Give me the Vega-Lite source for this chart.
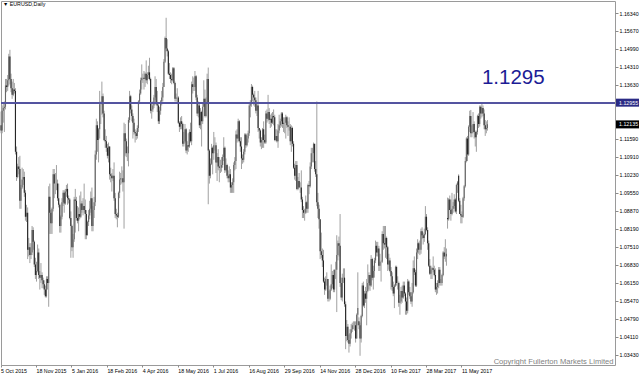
{
"$schema": "https://vega.github.io/schema/vega-lite/v6.json",
"width": 614, "height": 364,
"autosize": "none",
"padding": {"left": 1, "top": 1, "right": 25, "bottom": 10},
"background": "white",
"title": {"text": "▼ EURUSD,Daily", "anchor": "start", "frame": "group", "font": "Liberation Sans", "fontSize": 5.3, "fontWeight": "normal", "color": "#000000", "baseline": "top", "offset": 0, "dy": 6, "dx": 2},
"config": {"view": {"stroke": "#9a9a9a", "strokeWidth": 1}, "axis": {"labelFont": "Liberation Sans", "labelFontSize": 5.3, "labelColor": "#000000", "tickColor": "#8a8a8a", "domain": false, "grid": false, "labelOverlap": false, "labelFlush": false, "labelBound": false}},
"data": {"values": [
{"d":"2015-10-05","o":1.1210,"h":1.1262,"l":1.1180,"c":1.1190},
{"d":"2015-10-06","o":1.1190,"h":1.1285,"l":1.1180,"c":1.1265},
{"d":"2015-10-07","o":1.1265,"h":1.1295,"l":1.1220,"c":1.1275},
{"d":"2015-10-08","o":1.1275,"h":1.1300,"l":1.1185,"c":1.1280},
{"d":"2015-10-09","o":1.1280,"h":1.1385,"l":1.1270,"c":1.1360},
{"d":"2015-10-12","o":1.1360,"h":1.1385,"l":1.1335,"c":1.1355},
{"d":"2015-10-13","o":1.1355,"h":1.1400,"l":1.1340,"c":1.1380},
{"d":"2015-10-14","o":1.1380,"h":1.1480,"l":1.1360,"c":1.1470},
{"d":"2015-10-15","o":1.1470,"h":1.1495,"l":1.1365,"c":1.1385},
{"d":"2015-10-16","o":1.1385,"h":1.1405,"l":1.1335,"c":1.1350},
{"d":"2015-10-19","o":1.1350,"h":1.1375,"l":1.1310,"c":1.1325},
{"d":"2015-10-20","o":1.1325,"h":1.1385,"l":1.1320,"c":1.1345},
{"d":"2015-10-21","o":1.1345,"h":1.1370,"l":1.1330,"c":1.1340},
{"d":"2015-10-22","o":1.1340,"h":1.1350,"l":1.1100,"c":1.1110},
{"d":"2015-10-23","o":1.1110,"h":1.1130,"l":1.1000,"c":1.1015},
{"d":"2015-10-26","o":1.1015,"h":1.1065,"l":1.1010,"c":1.1055},
{"d":"2015-10-27","o":1.1055,"h":1.1090,"l":1.1025,"c":1.1045},
{"d":"2015-10-28","o":1.1045,"h":1.1095,"l":1.0895,"c":1.0925},
{"d":"2015-10-29","o":1.0925,"h":1.0985,"l":1.0895,"c":1.0975},
{"d":"2015-10-30","o":1.0975,"h":1.1050,"l":1.0970,"c":1.1005},
{"d":"2015-11-02","o":1.1005,"h":1.1045,"l":1.0985,"c":1.1015},
{"d":"2015-11-03","o":1.1015,"h":1.1035,"l":1.0940,"c":1.0955},
{"d":"2015-11-04","o":1.0955,"h":1.0965,"l":1.0850,"c":1.0865},
{"d":"2015-11-05","o":1.0865,"h":1.0910,"l":1.0845,"c":1.0880},
{"d":"2015-11-06","o":1.0880,"h":1.0900,"l":1.0705,"c":1.0740},
{"d":"2015-11-09","o":1.0740,"h":1.0785,"l":1.0715,"c":1.0750},
{"d":"2015-11-10","o":1.0750,"h":1.0765,"l":1.0690,"c":1.0720},
{"d":"2015-11-11","o":1.0720,"h":1.0765,"l":1.0705,"c":1.0730},
{"d":"2015-11-12","o":1.0730,"h":1.0830,"l":1.0720,"c":1.0815},
{"d":"2015-11-13","o":1.0815,"h":1.0825,"l":1.0740,"c":1.0770},
{"d":"2015-11-16","o":1.0770,"h":1.0775,"l":1.0675,"c":1.0685},
{"d":"2015-11-17","o":1.0685,"h":1.0710,"l":1.0630,"c":1.0645},
{"d":"2015-11-18","o":1.0645,"h":1.0695,"l":1.0620,"c":1.0660},
{"d":"2015-11-19","o":1.0660,"h":1.0760,"l":1.0655,"c":1.0730},
{"d":"2015-11-20","o":1.0730,"h":1.0745,"l":1.0630,"c":1.0645},
{"d":"2015-11-23","o":1.0645,"h":1.0660,"l":1.0590,"c":1.0635},
{"d":"2015-11-24","o":1.0635,"h":1.0690,"l":1.0615,"c":1.0645},
{"d":"2015-11-25","o":1.0645,"h":1.0655,"l":1.0595,"c":1.0625},
{"d":"2015-11-26","o":1.0625,"h":1.0635,"l":1.0595,"c":1.0610},
{"d":"2015-11-27","o":1.0610,"h":1.0625,"l":1.0570,"c":1.0590},
{"d":"2015-11-30","o":1.0590,"h":1.0605,"l":1.0560,"c":1.0565},
{"d":"2015-12-01","o":1.0565,"h":1.0640,"l":1.0560,"c":1.0630},
{"d":"2015-12-02","o":1.0630,"h":1.0640,"l":1.0590,"c":1.0615},
{"d":"2015-12-03","o":1.0615,"h":1.0980,"l":1.0525,"c":1.0940},
{"d":"2015-12-04","o":1.0940,"h":1.0990,"l":1.0800,"c":1.0880},
{"d":"2015-12-07","o":1.0880,"h":1.0890,"l":1.0800,"c":1.0840},
{"d":"2015-12-08","o":1.0840,"h":1.0900,"l":1.0800,"c":1.0895},
{"d":"2015-12-09","o":1.0895,"h":1.1045,"l":1.0885,"c":1.1025},
{"d":"2015-12-10","o":1.1025,"h":1.1045,"l":1.0935,"c":1.0990},
{"d":"2015-12-11","o":1.0990,"h":1.1030,"l":1.0950,"c":1.0990},
{"d":"2015-12-14","o":1.0990,"h":1.1060,"l":1.0965,"c":1.0990},
{"d":"2015-12-15","o":1.0990,"h":1.1005,"l":1.0925,"c":1.0935},
{"d":"2015-12-16","o":1.0935,"h":1.0990,"l":1.0900,"c":1.0910},
{"d":"2015-12-17","o":1.0910,"h":1.0915,"l":1.0805,"c":1.0830},
{"d":"2015-12-18","o":1.0830,"h":1.0870,"l":1.0805,"c":1.0865},
{"d":"2015-12-21","o":1.0865,"h":1.0935,"l":1.0855,"c":1.0920},
{"d":"2015-12-22","o":1.0920,"h":1.0965,"l":1.0905,"c":1.0955},
{"d":"2015-12-23","o":1.0955,"h":1.0965,"l":1.0880,"c":1.0915},
{"d":"2015-12-24","o":1.0915,"h":1.0970,"l":1.0910,"c":1.0960},
{"d":"2015-12-28","o":1.0960,"h":1.0985,"l":1.0940,"c":1.0970},
{"d":"2015-12-29","o":1.0970,"h":1.0990,"l":1.0910,"c":1.0935},
{"d":"2015-12-30","o":1.0935,"h":1.0945,"l":1.0915,"c":1.0930},
{"d":"2015-12-31","o":1.0930,"h":1.0935,"l":1.0855,"c":1.0860},
{"d":"2016-01-04","o":1.0860,"h":1.0885,"l":1.0710,"c":1.0830},
{"d":"2016-01-05","o":1.0830,"h":1.0835,"l":1.0735,"c":1.0750},
{"d":"2016-01-06","o":1.0750,"h":1.0800,"l":1.0710,"c":1.0780},
{"d":"2016-01-07","o":1.0780,"h":1.0940,"l":1.0770,"c":1.0930},
{"d":"2016-01-08","o":1.0930,"h":1.0970,"l":1.0805,"c":1.0925},
{"d":"2016-01-11","o":1.0925,"h":1.0940,"l":1.0850,"c":1.0860},
{"d":"2016-01-12","o":1.0860,"h":1.0905,"l":1.0840,"c":1.0850},
{"d":"2016-01-13","o":1.0850,"h":1.0900,"l":1.0810,"c":1.0875},
{"d":"2016-01-14","o":1.0875,"h":1.0945,"l":1.0855,"c":1.0865},
{"d":"2016-01-15","o":1.0865,"h":1.0960,"l":1.0860,"c":1.0915},
{"d":"2016-01-18","o":1.0915,"h":1.0925,"l":1.0880,"c":1.0890},
{"d":"2016-01-19","o":1.0890,"h":1.0935,"l":1.0870,"c":1.0905},
{"d":"2016-01-20","o":1.0905,"h":1.0990,"l":1.0880,"c":1.0890},
{"d":"2016-01-21","o":1.0890,"h":1.0930,"l":1.0780,"c":1.0875},
{"d":"2016-01-22","o":1.0875,"h":1.0890,"l":1.0780,"c":1.0795},
{"d":"2016-01-25","o":1.0795,"h":1.0850,"l":1.0795,"c":1.0845},
{"d":"2016-01-26","o":1.0845,"h":1.0890,"l":1.0830,"c":1.0870},
{"d":"2016-01-27","o":1.0870,"h":1.0925,"l":1.0855,"c":1.0895},
{"d":"2016-01-28","o":1.0895,"h":1.0960,"l":1.0880,"c":1.0935},
{"d":"2016-01-29","o":1.0935,"h":1.0975,"l":1.0810,"c":1.0830},
{"d":"2016-02-01","o":1.0830,"h":1.0905,"l":1.0810,"c":1.0890},
{"d":"2016-02-02","o":1.0890,"h":1.0940,"l":1.0860,"c":1.0920},
{"d":"2016-02-03","o":1.0920,"h":1.1115,"l":1.0905,"c":1.1100},
{"d":"2016-02-04","o":1.1100,"h":1.1235,"l":1.1080,"c":1.1210},
{"d":"2016-02-05","o":1.1210,"h":1.1225,"l":1.1110,"c":1.1155},
{"d":"2016-02-08","o":1.1155,"h":1.1200,"l":1.1070,"c":1.1195},
{"d":"2016-02-09","o":1.1195,"h":1.1340,"l":1.1160,"c":1.1290},
{"d":"2016-02-10","o":1.1290,"h":1.1300,"l":1.1215,"c":1.1290},
{"d":"2016-02-11","o":1.1290,"h":1.1375,"l":1.1250,"c":1.1320},
{"d":"2016-02-12","o":1.1320,"h":1.1330,"l":1.1240,"c":1.1255},
{"d":"2016-02-15","o":1.1255,"h":1.1265,"l":1.1150,"c":1.1155},
{"d":"2016-02-16","o":1.1155,"h":1.1195,"l":1.1125,"c":1.1150},
{"d":"2016-02-17","o":1.1150,"h":1.1170,"l":1.1110,"c":1.1125},
{"d":"2016-02-18","o":1.1125,"h":1.1140,"l":1.1085,"c":1.1095},
{"d":"2016-02-19","o":1.1095,"h":1.1145,"l":1.1070,"c":1.1130},
{"d":"2016-02-22","o":1.1130,"h":1.1130,"l":1.1005,"c":1.1025},
{"d":"2016-02-23","o":1.1025,"h":1.1050,"l":1.0995,"c":1.1020},
{"d":"2016-02-24","o":1.1020,"h":1.1030,"l":1.0960,"c":1.1010},
{"d":"2016-02-25","o":1.1010,"h":1.1045,"l":1.1000,"c":1.1020},
{"d":"2016-02-26","o":1.1020,"h":1.1070,"l":1.0925,"c":1.0935},
{"d":"2016-02-29","o":1.0935,"h":1.0955,"l":1.0860,"c":1.0875},
{"d":"2016-03-01","o":1.0875,"h":1.0895,"l":1.0855,"c":1.0870},
{"d":"2016-03-02","o":1.0870,"h":1.0880,"l":1.0825,"c":1.0865},
{"d":"2016-03-03","o":1.0865,"h":1.0960,"l":1.0860,"c":1.0955},
{"d":"2016-03-04","o":1.0955,"h":1.1035,"l":1.0935,"c":1.1005},
{"d":"2016-03-07","o":1.1005,"h":1.1030,"l":1.0985,"c":1.1010},
{"d":"2016-03-08","o":1.1010,"h":1.1055,"l":1.0990,"c":1.1010},
{"d":"2016-03-09","o":1.1010,"h":1.1040,"l":1.0960,"c":1.0995},
{"d":"2016-03-10","o":1.0995,"h":1.1220,"l":1.0820,"c":1.1180},
{"d":"2016-03-11","o":1.1180,"h":1.1215,"l":1.1095,"c":1.1150},
{"d":"2016-03-14","o":1.1150,"h":1.1160,"l":1.1090,"c":1.1105},
{"d":"2016-03-15","o":1.1105,"h":1.1130,"l":1.1075,"c":1.1105},
{"d":"2016-03-16","o":1.1105,"h":1.1240,"l":1.1055,"c":1.1230},
{"d":"2016-03-17","o":1.1230,"h":1.1340,"l":1.1220,"c":1.1320},
{"d":"2016-03-18","o":1.1320,"h":1.1325,"l":1.1255,"c":1.1270},
{"d":"2016-03-21","o":1.1270,"h":1.1285,"l":1.1225,"c":1.1245},
{"d":"2016-03-22","o":1.1245,"h":1.1255,"l":1.1160,"c":1.1220},
{"d":"2016-03-23","o":1.1220,"h":1.1235,"l":1.1175,"c":1.1185},
{"d":"2016-03-24","o":1.1185,"h":1.1195,"l":1.1145,"c":1.1180},
{"d":"2016-03-25","o":1.1180,"h":1.1190,"l":1.1155,"c":1.1170},
{"d":"2016-03-28","o":1.1170,"h":1.1210,"l":1.1160,"c":1.1200},
{"d":"2016-03-29","o":1.1200,"h":1.1305,"l":1.1185,"c":1.1300},
{"d":"2016-03-30","o":1.1300,"h":1.1345,"l":1.1290,"c":1.1330},
{"d":"2016-03-31","o":1.1330,"h":1.1390,"l":1.1325,"c":1.1380},
{"d":"2016-04-01","o":1.1380,"h":1.1440,"l":1.1345,"c":1.1390},
{"d":"2016-04-04","o":1.1390,"h":1.1405,"l":1.1370,"c":1.1390},
{"d":"2016-04-05","o":1.1390,"h":1.1415,"l":1.1345,"c":1.1385},
{"d":"2016-04-06","o":1.1385,"h":1.1410,"l":1.1355,"c":1.1405},
{"d":"2016-04-07","o":1.1405,"h":1.1455,"l":1.1370,"c":1.1380},
{"d":"2016-04-08","o":1.1380,"h":1.1410,"l":1.1365,"c":1.1400},
{"d":"2016-04-11","o":1.1400,"h":1.1435,"l":1.1385,"c":1.1410},
{"d":"2016-04-12","o":1.1410,"h":1.1465,"l":1.1380,"c":1.1385},
{"d":"2016-04-13","o":1.1385,"h":1.1390,"l":1.1255,"c":1.1265},
{"d":"2016-04-14","o":1.1265,"h":1.1295,"l":1.1235,"c":1.1270},
{"d":"2016-04-15","o":1.1270,"h":1.1300,"l":1.1260,"c":1.1285},
{"d":"2016-04-18","o":1.1285,"h":1.1325,"l":1.1275,"c":1.1315},
{"d":"2016-04-19","o":1.1315,"h":1.1395,"l":1.1305,"c":1.1355},
{"d":"2016-04-20","o":1.1355,"h":1.1385,"l":1.1285,"c":1.1290},
{"d":"2016-04-21","o":1.1290,"h":1.1340,"l":1.1260,"c":1.1285},
{"d":"2016-04-22","o":1.1285,"h":1.1290,"l":1.1215,"c":1.1225},
{"d":"2016-04-25","o":1.1225,"h":1.1280,"l":1.1215,"c":1.1265},
{"d":"2016-04-26","o":1.1265,"h":1.1305,"l":1.1250,"c":1.1300},
{"d":"2016-04-27","o":1.1300,"h":1.1340,"l":1.1285,"c":1.1315},
{"d":"2016-04-28","o":1.1315,"h":1.1370,"l":1.1300,"c":1.1355},
{"d":"2016-04-29","o":1.1355,"h":1.1460,"l":1.1355,"c":1.1450},
{"d":"2016-05-02","o":1.1450,"h":1.1545,"l":1.1445,"c":1.1540},
{"d":"2016-05-03","o":1.1540,"h":1.1616,"l":1.1490,"c":1.1500},
{"d":"2016-05-04","o":1.1500,"h":1.1535,"l":1.1470,"c":1.1490},
{"d":"2016-05-05","o":1.1490,"h":1.1495,"l":1.1400,"c":1.1405},
{"d":"2016-05-06","o":1.1405,"h":1.1445,"l":1.1385,"c":1.1400},
{"d":"2016-05-09","o":1.1400,"h":1.1410,"l":1.1370,"c":1.1385},
{"d":"2016-05-10","o":1.1385,"h":1.1405,"l":1.1365,"c":1.1380},
{"d":"2016-05-11","o":1.1380,"h":1.1430,"l":1.1375,"c":1.1425},
{"d":"2016-05-12","o":1.1425,"h":1.1430,"l":1.1365,"c":1.1370},
{"d":"2016-05-13","o":1.1370,"h":1.1375,"l":1.1300,"c":1.1310},
{"d":"2016-05-16","o":1.1310,"h":1.1330,"l":1.1300,"c":1.1315},
{"d":"2016-05-17","o":1.1315,"h":1.1350,"l":1.1295,"c":1.1315},
{"d":"2016-05-18","o":1.1315,"h":1.1320,"l":1.1215,"c":1.1220},
{"d":"2016-05-19","o":1.1220,"h":1.1225,"l":1.1185,"c":1.1205},
{"d":"2016-05-20","o":1.1205,"h":1.1240,"l":1.1195,"c":1.1225},
{"d":"2016-05-23","o":1.1225,"h":1.1245,"l":1.1195,"c":1.1215},
{"d":"2016-05-24","o":1.1215,"h":1.1220,"l":1.1130,"c":1.1140},
{"d":"2016-05-25","o":1.1140,"h":1.1185,"l":1.1130,"c":1.1150},
{"d":"2016-05-26","o":1.1150,"h":1.1215,"l":1.1145,"c":1.1195},
{"d":"2016-05-27","o":1.1195,"h":1.1200,"l":1.1105,"c":1.1115},
{"d":"2016-05-30","o":1.1115,"h":1.1150,"l":1.1100,"c":1.1135},
{"d":"2016-05-31","o":1.1135,"h":1.1180,"l":1.1110,"c":1.1130},
{"d":"2016-06-01","o":1.1130,"h":1.1195,"l":1.1125,"c":1.1185},
{"d":"2016-06-02","o":1.1185,"h":1.1220,"l":1.1145,"c":1.1150},
{"d":"2016-06-03","o":1.1150,"h":1.1375,"l":1.1135,"c":1.1365},
{"d":"2016-06-06","o":1.1365,"h":1.1395,"l":1.1330,"c":1.1355},
{"d":"2016-06-07","o":1.1355,"h":1.1390,"l":1.1340,"c":1.1355},
{"d":"2016-06-08","o":1.1355,"h":1.1415,"l":1.1340,"c":1.1395},
{"d":"2016-06-09","o":1.1395,"h":1.1400,"l":1.1305,"c":1.1315},
{"d":"2016-06-10","o":1.1315,"h":1.1325,"l":1.1245,"c":1.1255},
{"d":"2016-06-13","o":1.1255,"h":1.1300,"l":1.1240,"c":1.1285},
{"d":"2016-06-14","o":1.1285,"h":1.1295,"l":1.1200,"c":1.1210},
{"d":"2016-06-15","o":1.1210,"h":1.1275,"l":1.1195,"c":1.1260},
{"d":"2016-06-16","o":1.1260,"h":1.1265,"l":1.1130,"c":1.1225},
{"d":"2016-06-17","o":1.1225,"h":1.1295,"l":1.1215,"c":1.1280},
{"d":"2016-06-20","o":1.1280,"h":1.1380,"l":1.1280,"c":1.1310},
{"d":"2016-06-21","o":1.1310,"h":1.1345,"l":1.1240,"c":1.1245},
{"d":"2016-06-22","o":1.1245,"h":1.1315,"l":1.1240,"c":1.1295},
{"d":"2016-06-23","o":1.1295,"h":1.1405,"l":1.1290,"c":1.1385},
{"d":"2016-06-24","o":1.1385,"h":1.1428,"l":1.0912,"c":1.1115},
{"d":"2016-06-27","o":1.1115,"h":1.1120,"l":1.0990,"c":1.1020},
{"d":"2016-06-28","o":1.1020,"h":1.1085,"l":1.1010,"c":1.1065},
{"d":"2016-06-29","o":1.1065,"h":1.1140,"l":1.1060,"c":1.1125},
{"d":"2016-06-30","o":1.1125,"h":1.1130,"l":1.1025,"c":1.1105},
{"d":"2016-07-01","o":1.1105,"h":1.1185,"l":1.1080,"c":1.1135},
{"d":"2016-07-04","o":1.1135,"h":1.1165,"l":1.1115,"c":1.1135},
{"d":"2016-07-05","o":1.1135,"h":1.1145,"l":1.1030,"c":1.1070},
{"d":"2016-07-06","o":1.1070,"h":1.1105,"l":1.1000,"c":1.1090},
{"d":"2016-07-07","o":1.1090,"h":1.1120,"l":1.1040,"c":1.1055},
{"d":"2016-07-08","o":1.1055,"h":1.1090,"l":1.0995,"c":1.1050},
{"d":"2016-07-11","o":1.1050,"h":1.1080,"l":1.1030,"c":1.1050},
{"d":"2016-07-12","o":1.1050,"h":1.1090,"l":1.1035,"c":1.1060},
{"d":"2016-07-13","o":1.1060,"h":1.1100,"l":1.1050,"c":1.1090},
{"d":"2016-07-14","o":1.1090,"h":1.1165,"l":1.1075,"c":1.1125},
{"d":"2016-07-15","o":1.1125,"h":1.1130,"l":1.1030,"c":1.1040},
{"d":"2016-07-18","o":1.1040,"h":1.1085,"l":1.1035,"c":1.1060},
{"d":"2016-07-19","o":1.1060,"h":1.1065,"l":1.1010,"c":1.1020},
{"d":"2016-07-20","o":1.1020,"h":1.1040,"l":1.0995,"c":1.1010},
{"d":"2016-07-21","o":1.1010,"h":1.1055,"l":1.0995,"c":1.1025},
{"d":"2016-07-22","o":1.1025,"h":1.1045,"l":1.0955,"c":1.0975},
{"d":"2016-07-25","o":1.0975,"h":1.0995,"l":1.0955,"c":1.0985},
{"d":"2016-07-26","o":1.0985,"h":1.1010,"l":1.0955,"c":1.0995},
{"d":"2016-07-27","o":1.0995,"h":1.1070,"l":1.0955,"c":1.1060},
{"d":"2016-07-28","o":1.1060,"h":1.1090,"l":1.1040,"c":1.1075},
{"d":"2016-07-29","o":1.1075,"h":1.1190,"l":1.1045,"c":1.1175},
{"d":"2016-08-01","o":1.1175,"h":1.1195,"l":1.1145,"c":1.1160},
{"d":"2016-08-02","o":1.1160,"h":1.1235,"l":1.1150,"c":1.1225},
{"d":"2016-08-03","o":1.1225,"h":1.1230,"l":1.1145,"c":1.1150},
{"d":"2016-08-04","o":1.1150,"h":1.1165,"l":1.1110,"c":1.1130},
{"d":"2016-08-05","o":1.1130,"h":1.1165,"l":1.1045,"c":1.1085},
{"d":"2016-08-08","o":1.1085,"h":1.1100,"l":1.1065,"c":1.1080},
{"d":"2016-08-09","o":1.1080,"h":1.1120,"l":1.1070,"c":1.1110},
{"d":"2016-08-10","o":1.1110,"h":1.1180,"l":1.1100,"c":1.1175},
{"d":"2016-08-11","o":1.1175,"h":1.1180,"l":1.1125,"c":1.1135},
{"d":"2016-08-12","o":1.1135,"h":1.1170,"l":1.1130,"c":1.1160},
{"d":"2016-08-15","o":1.1160,"h":1.1190,"l":1.1145,"c":1.1180},
{"d":"2016-08-16","o":1.1180,"h":1.1295,"l":1.1170,"c":1.1285},
{"d":"2016-08-17","o":1.1285,"h":1.1305,"l":1.1240,"c":1.1290},
{"d":"2016-08-18","o":1.1290,"h":1.1366,"l":1.1280,"c":1.1355},
{"d":"2016-08-19","o":1.1355,"h":1.1360,"l":1.1300,"c":1.1325},
{"d":"2016-08-22","o":1.1325,"h":1.1330,"l":1.1285,"c":1.1315},
{"d":"2016-08-23","o":1.1315,"h":1.1340,"l":1.1280,"c":1.1305},
{"d":"2016-08-24","o":1.1305,"h":1.1315,"l":1.1255,"c":1.1265},
{"d":"2016-08-25","o":1.1265,"h":1.1295,"l":1.1245,"c":1.1285},
{"d":"2016-08-26","o":1.1285,"h":1.1340,"l":1.1185,"c":1.1200},
{"d":"2016-08-29","o":1.1200,"h":1.1200,"l":1.1160,"c":1.1190},
{"d":"2016-08-30","o":1.1190,"h":1.1195,"l":1.1130,"c":1.1145},
{"d":"2016-08-31","o":1.1145,"h":1.1165,"l":1.1120,"c":1.1155},
{"d":"2016-09-01","o":1.1155,"h":1.1200,"l":1.1125,"c":1.1195},
{"d":"2016-09-02","o":1.1195,"h":1.1225,"l":1.1125,"c":1.1155},
{"d":"2016-09-05","o":1.1155,"h":1.1175,"l":1.1140,"c":1.1145},
{"d":"2016-09-06","o":1.1145,"h":1.1265,"l":1.1140,"c":1.1255},
{"d":"2016-09-07","o":1.1255,"h":1.1270,"l":1.1220,"c":1.1235},
{"d":"2016-09-08","o":1.1235,"h":1.1325,"l":1.1225,"c":1.1260},
{"d":"2016-09-09","o":1.1260,"h":1.1275,"l":1.1215,"c":1.1230},
{"d":"2016-09-12","o":1.1230,"h":1.1250,"l":1.1200,"c":1.1235},
{"d":"2016-09-13","o":1.1235,"h":1.1255,"l":1.1205,"c":1.1220},
{"d":"2016-09-14","o":1.1220,"h":1.1260,"l":1.1215,"c":1.1245},
{"d":"2016-09-15","o":1.1245,"h":1.1270,"l":1.1210,"c":1.1240},
{"d":"2016-09-16","o":1.1240,"h":1.1250,"l":1.1150,"c":1.1155},
{"d":"2016-09-19","o":1.1155,"h":1.1195,"l":1.1150,"c":1.1170},
{"d":"2016-09-20","o":1.1170,"h":1.1195,"l":1.1145,"c":1.1150},
{"d":"2016-09-21","o":1.1150,"h":1.1215,"l":1.1125,"c":1.1190},
{"d":"2016-09-22","o":1.1190,"h":1.1250,"l":1.1180,"c":1.1210},
{"d":"2016-09-23","o":1.1210,"h":1.1235,"l":1.1200,"c":1.1225},
{"d":"2016-09-26","o":1.1225,"h":1.1260,"l":1.1205,"c":1.1255},
{"d":"2016-09-27","o":1.1255,"h":1.1260,"l":1.1200,"c":1.1215},
{"d":"2016-09-28","o":1.1215,"h":1.1240,"l":1.1185,"c":1.1220},
{"d":"2016-09-29","o":1.1220,"h":1.1240,"l":1.1180,"c":1.1220},
{"d":"2016-09-30","o":1.1220,"h":1.1250,"l":1.1160,"c":1.1240},
{"d":"2016-10-03","o":1.1240,"h":1.1245,"l":1.1200,"c":1.1210},
{"d":"2016-10-04","o":1.1210,"h":1.1225,"l":1.1170,"c":1.1205},
{"d":"2016-10-05","o":1.1205,"h":1.1240,"l":1.1190,"c":1.1205},
{"d":"2016-10-06","o":1.1205,"h":1.1215,"l":1.1135,"c":1.1150},
{"d":"2016-10-07","o":1.1150,"h":1.1210,"l":1.1110,"c":1.1200},
{"d":"2016-10-10","o":1.1200,"h":1.1205,"l":1.1130,"c":1.1140},
{"d":"2016-10-11","o":1.1140,"h":1.1150,"l":1.1045,"c":1.1050},
{"d":"2016-10-12","o":1.1050,"h":1.1065,"l":1.1005,"c":1.1020},
{"d":"2016-10-13","o":1.1020,"h":1.1075,"l":1.1000,"c":1.1060},
{"d":"2016-10-14","o":1.1060,"h":1.1075,"l":1.0965,"c":1.0970},
{"d":"2016-10-17","o":1.0970,"h":1.1015,"l":1.0965,"c":1.1000},
{"d":"2016-10-18","o":1.1000,"h":1.1030,"l":1.0975,"c":1.0975},
{"d":"2016-10-19","o":1.0975,"h":1.0995,"l":1.0955,"c":1.0975},
{"d":"2016-10-20","o":1.0975,"h":1.1040,"l":1.0920,"c":1.0930},
{"d":"2016-10-21","o":1.0930,"h":1.0940,"l":1.0860,"c":1.0890},
{"d":"2016-10-24","o":1.0890,"h":1.0905,"l":1.0860,"c":1.0880},
{"d":"2016-10-25","o":1.0880,"h":1.0895,"l":1.0850,"c":1.0880},
{"d":"2016-10-26","o":1.0880,"h":1.0945,"l":1.0875,"c":1.0920},
{"d":"2016-10-27","o":1.0920,"h":1.0925,"l":1.0880,"c":1.0895},
{"d":"2016-10-28","o":1.0895,"h":1.0990,"l":1.0880,"c":1.0985},
{"d":"2016-10-31","o":1.0985,"h":1.1000,"l":1.0950,"c":1.0980},
{"d":"2016-11-01","o":1.0980,"h":1.1070,"l":1.0975,"c":1.1055},
{"d":"2016-11-02","o":1.1055,"h":1.1125,"l":1.1045,"c":1.1105},
{"d":"2016-11-03","o":1.1105,"h":1.1125,"l":1.1070,"c":1.1105},
{"d":"2016-11-04","o":1.1105,"h":1.1145,"l":1.1070,"c":1.1140},
{"d":"2016-11-07","o":1.1140,"h":1.1140,"l":1.1035,"c":1.1045},
{"d":"2016-11-08","o":1.1045,"h":1.1075,"l":1.1015,"c":1.1025},
{"d":"2016-11-09","o":1.1025,"h":1.1300,"l":1.0905,"c":1.0920},
{"d":"2016-11-10","o":1.0920,"h":1.0955,"l":1.0860,"c":1.0895},
{"d":"2016-11-11","o":1.0895,"h":1.0910,"l":1.0820,"c":1.0855},
{"d":"2016-11-14","o":1.0855,"h":1.0855,"l":1.0705,"c":1.0735},
{"d":"2016-11-15","o":1.0735,"h":1.0805,"l":1.0710,"c":1.0720},
{"d":"2016-11-16","o":1.0720,"h":1.0745,"l":1.0675,"c":1.0700},
{"d":"2016-11-17","o":1.0700,"h":1.0740,"l":1.0615,"c":1.0620},
{"d":"2016-11-18","o":1.0620,"h":1.0635,"l":1.0570,"c":1.0590},
{"d":"2016-11-21","o":1.0590,"h":1.0640,"l":1.0585,"c":1.0630},
{"d":"2016-11-22","o":1.0630,"h":1.0655,"l":1.0605,"c":1.0630},
{"d":"2016-11-23","o":1.0630,"h":1.0630,"l":1.0545,"c":1.0555},
{"d":"2016-11-24","o":1.0555,"h":1.0585,"l":1.0545,"c":1.0555},
{"d":"2016-11-25","o":1.0555,"h":1.0605,"l":1.0550,"c":1.0590},
{"d":"2016-11-28","o":1.0590,"h":1.0685,"l":1.0585,"c":1.0610},
{"d":"2016-11-29","o":1.0610,"h":1.0660,"l":1.0595,"c":1.0645},
{"d":"2016-11-30","o":1.0645,"h":1.0665,"l":1.0580,"c":1.0590},
{"d":"2016-12-01","o":1.0590,"h":1.0665,"l":1.0580,"c":1.0665},
{"d":"2016-12-02","o":1.0665,"h":1.0695,"l":1.0630,"c":1.0665},
{"d":"2016-12-05","o":1.0665,"h":1.0795,"l":1.0505,"c":1.0720},
{"d":"2016-12-06","o":1.0720,"h":1.0775,"l":1.0700,"c":1.0765},
{"d":"2016-12-07","o":1.0765,"h":1.0790,"l":1.0715,"c":1.0755},
{"d":"2016-12-08","o":1.0755,"h":1.0875,"l":1.0600,"c":1.0615},
{"d":"2016-12-09","o":1.0615,"h":1.0635,"l":1.0550,"c":1.0560},
{"d":"2016-12-12","o":1.0560,"h":1.0650,"l":1.0545,"c":1.0635},
{"d":"2016-12-13","o":1.0635,"h":1.0670,"l":1.0615,"c":1.0635},
{"d":"2016-12-14","o":1.0635,"h":1.0670,"l":1.0525,"c":1.0535},
{"d":"2016-12-15","o":1.0535,"h":1.0545,"l":1.0365,"c":1.0415},
{"d":"2016-12-16","o":1.0415,"h":1.0475,"l":1.0395,"c":1.0450},
{"d":"2016-12-19","o":1.0450,"h":1.0460,"l":1.0390,"c":1.0400},
{"d":"2016-12-20","o":1.0400,"h":1.0420,"l":1.0352,"c":1.0385},
{"d":"2016-12-21","o":1.0385,"h":1.0440,"l":1.0375,"c":1.0425},
{"d":"2016-12-22","o":1.0425,"h":1.0460,"l":1.0405,"c":1.0440},
{"d":"2016-12-23","o":1.0440,"h":1.0465,"l":1.0430,"c":1.0455},
{"d":"2016-12-26","o":1.0455,"h":1.0470,"l":1.0440,"c":1.0455},
{"d":"2016-12-27","o":1.0455,"h":1.0470,"l":1.0435,"c":1.0455},
{"d":"2016-12-28","o":1.0455,"h":1.0470,"l":1.0390,"c":1.0405},
{"d":"2016-12-29","o":1.0405,"h":1.0500,"l":1.0405,"c":1.0495},
{"d":"2016-12-30","o":1.0495,"h":1.0655,"l":1.0455,"c":1.0520},
{"d":"2017-01-02","o":1.0470,"h":1.0485,"l":1.0440,"c":1.0455},
{"d":"2017-01-03","o":1.0455,"h":1.0465,"l":1.0340,"c":1.0405},
{"d":"2017-01-04","o":1.0405,"h":1.0495,"l":1.0390,"c":1.0490},
{"d":"2017-01-05","o":1.0490,"h":1.0615,"l":1.0485,"c":1.0605},
{"d":"2017-01-06","o":1.0605,"h":1.0620,"l":1.0525,"c":1.0530},
{"d":"2017-01-09","o":1.0530,"h":1.0585,"l":1.0520,"c":1.0575},
{"d":"2017-01-10","o":1.0575,"h":1.0600,"l":1.0540,"c":1.0555},
{"d":"2017-01-11","o":1.0555,"h":1.0630,"l":1.0455,"c":1.0585},
{"d":"2017-01-12","o":1.0585,"h":1.0685,"l":1.0580,"c":1.0615},
{"d":"2017-01-13","o":1.0615,"h":1.0655,"l":1.0590,"c":1.0645},
{"d":"2017-01-16","o":1.0645,"h":1.0645,"l":1.0585,"c":1.0605},
{"d":"2017-01-17","o":1.0605,"h":1.0720,"l":1.0600,"c":1.0705},
{"d":"2017-01-18","o":1.0705,"h":1.0710,"l":1.0625,"c":1.0635},
{"d":"2017-01-19","o":1.0635,"h":1.0680,"l":1.0590,"c":1.0660},
{"d":"2017-01-20","o":1.0660,"h":1.0710,"l":1.0635,"c":1.0700},
{"d":"2017-01-23","o":1.0700,"h":1.0775,"l":1.0690,"c":1.0755},
{"d":"2017-01-24","o":1.0755,"h":1.0770,"l":1.0715,"c":1.0730},
{"d":"2017-01-25","o":1.0730,"h":1.0770,"l":1.0715,"c":1.0745},
{"d":"2017-01-26","o":1.0745,"h":1.0755,"l":1.0660,"c":1.0680},
{"d":"2017-01-27","o":1.0680,"h":1.0725,"l":1.0660,"c":1.0695},
{"d":"2017-01-30","o":1.0695,"h":1.0700,"l":1.0620,"c":1.0695},
{"d":"2017-01-31","o":1.0695,"h":1.0810,"l":1.0690,"c":1.0800},
{"d":"2017-02-01","o":1.0800,"h":1.0830,"l":1.0740,"c":1.0765},
{"d":"2017-02-02","o":1.0765,"h":1.0830,"l":1.0745,"c":1.0760},
{"d":"2017-02-03","o":1.0760,"h":1.0830,"l":1.0710,"c":1.0785},
{"d":"2017-02-06","o":1.0785,"h":1.0790,"l":1.0705,"c":1.0750},
{"d":"2017-02-07","o":1.0750,"h":1.0755,"l":1.0660,"c":1.0685},
{"d":"2017-02-08","o":1.0685,"h":1.0725,"l":1.0665,"c":1.0700},
{"d":"2017-02-09","o":1.0700,"h":1.0710,"l":1.0655,"c":1.0660},
{"d":"2017-02-10","o":1.0660,"h":1.0675,"l":1.0590,"c":1.0640},
{"d":"2017-02-13","o":1.0640,"h":1.0655,"l":1.0585,"c":1.0600},
{"d":"2017-02-14","o":1.0600,"h":1.0620,"l":1.0565,"c":1.0575},
{"d":"2017-02-15","o":1.0575,"h":1.0610,"l":1.0520,"c":1.0605},
{"d":"2017-02-16","o":1.0605,"h":1.0680,"l":1.0600,"c":1.0675},
{"d":"2017-02-17","o":1.0675,"h":1.0680,"l":1.0605,"c":1.0615},
{"d":"2017-02-20","o":1.0615,"h":1.0640,"l":1.0590,"c":1.0615},
{"d":"2017-02-21","o":1.0615,"h":1.0620,"l":1.0525,"c":1.0540},
{"d":"2017-02-22","o":1.0540,"h":1.0570,"l":1.0495,"c":1.0545},
{"d":"2017-02-23","o":1.0545,"h":1.0600,"l":1.0535,"c":1.0585},
{"d":"2017-02-24","o":1.0585,"h":1.0605,"l":1.0540,"c":1.0560},
{"d":"2017-02-27","o":1.0560,"h":1.0620,"l":1.0555,"c":1.0605},
{"d":"2017-02-28","o":1.0605,"h":1.0620,"l":1.0565,"c":1.0575},
{"d":"2017-03-01","o":1.0575,"h":1.0580,"l":1.0495,"c":1.0545},
{"d":"2017-03-02","o":1.0545,"h":1.0560,"l":1.0495,"c":1.0510},
{"d":"2017-03-03","o":1.0510,"h":1.0630,"l":1.0500,"c":1.0620},
{"d":"2017-03-06","o":1.0620,"h":1.0625,"l":1.0570,"c":1.0580},
{"d":"2017-03-07","o":1.0580,"h":1.0600,"l":1.0555,"c":1.0565},
{"d":"2017-03-08","o":1.0565,"h":1.0580,"l":1.0535,"c":1.0545},
{"d":"2017-03-09","o":1.0545,"h":1.0615,"l":1.0525,"c":1.0580},
{"d":"2017-03-10","o":1.0580,"h":1.0700,"l":1.0575,"c":1.0670},
{"d":"2017-03-13","o":1.0670,"h":1.0715,"l":1.0645,"c":1.0655},
{"d":"2017-03-14","o":1.0655,"h":1.0665,"l":1.0600,"c":1.0605},
{"d":"2017-03-15","o":1.0605,"h":1.0745,"l":1.0600,"c":1.0730},
{"d":"2017-03-16","o":1.0730,"h":1.0780,"l":1.0705,"c":1.0765},
{"d":"2017-03-17","o":1.0765,"h":1.0770,"l":1.0725,"c":1.0740},
{"d":"2017-03-20","o":1.0740,"h":1.0775,"l":1.0720,"c":1.0740},
{"d":"2017-03-21","o":1.0740,"h":1.0820,"l":1.0725,"c":1.0810},
{"d":"2017-03-22","o":1.0810,"h":1.0825,"l":1.0780,"c":1.0795},
{"d":"2017-03-23","o":1.0795,"h":1.0805,"l":1.0760,"c":1.0785},
{"d":"2017-03-24","o":1.0785,"h":1.0820,"l":1.0770,"c":1.0800},
{"d":"2017-03-27","o":1.0800,"h":1.0905,"l":1.0795,"c":1.0865},
{"d":"2017-03-28","o":1.0865,"h":1.0875,"l":1.0810,"c":1.0815},
{"d":"2017-03-29","o":1.0815,"h":1.0825,"l":1.0740,"c":1.0765},
{"d":"2017-03-30","o":1.0765,"h":1.0775,"l":1.0675,"c":1.0680},
{"d":"2017-03-31","o":1.0680,"h":1.0705,"l":1.0645,"c":1.0650},
{"d":"2017-04-03","o":1.0650,"h":1.0680,"l":1.0630,"c":1.0665},
{"d":"2017-04-04","o":1.0665,"h":1.0675,"l":1.0630,"c":1.0670},
{"d":"2017-04-05","o":1.0670,"h":1.0715,"l":1.0655,"c":1.0665},
{"d":"2017-04-06","o":1.0665,"h":1.0680,"l":1.0640,"c":1.0645},
{"d":"2017-04-07","o":1.0645,"h":1.0670,"l":1.0580,"c":1.0590},
{"d":"2017-04-10","o":1.0590,"h":1.0615,"l":1.0570,"c":1.0600},
{"d":"2017-04-11","o":1.0600,"h":1.0625,"l":1.0575,"c":1.0615},
{"d":"2017-04-12","o":1.0615,"h":1.0675,"l":1.0595,"c":1.0665},
{"d":"2017-04-13","o":1.0665,"h":1.0675,"l":1.0605,"c":1.0615},
{"d":"2017-04-14","o":1.0615,"h":1.0630,"l":1.0605,"c":1.0615},
{"d":"2017-04-17","o":1.0615,"h":1.0650,"l":1.0605,"c":1.0645},
{"d":"2017-04-18","o":1.0645,"h":1.0735,"l":1.0640,"c":1.0730},
{"d":"2017-04-19","o":1.0730,"h":1.0750,"l":1.0705,"c":1.0715},
{"d":"2017-04-20","o":1.0715,"h":1.0780,"l":1.0695,"c":1.0715},
{"d":"2017-04-21","o":1.0715,"h":1.0745,"l":1.0680,"c":1.0725},
{"d":"2017-04-24","o":1.0860,"h":1.0937,"l":1.0820,"c":1.0855},
{"d":"2017-04-25","o":1.0855,"h":1.0935,"l":1.0850,"c":1.0930},
{"d":"2017-04-26","o":1.0930,"h":1.0945,"l":1.0890,"c":1.0890},
{"d":"2017-04-27","o":1.0890,"h":1.0930,"l":1.0850,"c":1.0875},
{"d":"2017-04-28","o":1.0875,"h":1.0955,"l":1.0870,"c":1.0895},
{"d":"2017-05-01","o":1.0895,"h":1.0920,"l":1.0880,"c":1.0905},
{"d":"2017-05-02","o":1.0905,"h":1.0950,"l":1.0895,"c":1.0930},
{"d":"2017-05-03","o":1.0930,"h":1.0935,"l":1.0880,"c":1.0885},
{"d":"2017-05-04","o":1.0885,"h":1.0990,"l":1.0875,"c":1.0985},
{"d":"2017-05-05","o":1.0985,"h":1.1000,"l":1.0955,"c":1.0995},
{"d":"2017-05-08","o":1.1020,"h":1.1025,"l":1.0920,"c":1.0925},
{"d":"2017-05-09","o":1.0925,"h":1.0935,"l":1.0875,"c":1.0875},
{"d":"2017-05-10","o":1.0875,"h":1.0910,"l":1.0840,"c":1.0870},
{"d":"2017-05-11","o":1.0870,"h":1.0885,"l":1.0840,"c":1.0865},
{"d":"2017-05-12","o":1.0865,"h":1.0940,"l":1.0860,"c":1.0935},
{"d":"2017-05-15","o":1.0935,"h":1.0985,"l":1.0925,"c":1.0980},
{"d":"2017-05-16","o":1.0980,"h":1.1090,"l":1.0975,"c":1.1075},
{"d":"2017-05-17","o":1.1075,"h":1.1165,"l":1.1070,"c":1.1160},
{"d":"2017-05-18","o":1.1160,"h":1.1170,"l":1.1075,"c":1.1100},
{"d":"2017-05-19","o":1.1100,"h":1.1210,"l":1.1095,"c":1.1205},
{"d":"2017-05-22","o":1.1205,"h":1.1265,"l":1.1185,"c":1.1245},
{"d":"2017-05-23","o":1.1245,"h":1.1268,"l":1.1165,"c":1.1180},
{"d":"2017-05-24","o":1.1180,"h":1.1210,"l":1.1165,"c":1.1185},
{"d":"2017-05-25","o":1.1185,"h":1.1260,"l":1.1180,"c":1.1215},
{"d":"2017-05-26","o":1.1215,"h":1.1225,"l":1.1160,"c":1.1185},
{"d":"2017-05-29","o":1.1185,"h":1.1190,"l":1.1130,"c":1.1165},
{"d":"2017-05-30","o":1.1165,"h":1.1190,"l":1.1110,"c":1.1185},
{"d":"2017-05-31","o":1.1185,"h":1.1250,"l":1.1175,"c":1.1245},
{"d":"2017-06-01","o":1.1245,"h":1.1255,"l":1.1200,"c":1.1215},
{"d":"2017-06-02","o":1.1215,"h":1.1285,"l":1.1205,"c":1.1280},
{"d":"2017-06-05","o":1.1280,"h":1.1285,"l":1.1235,"c":1.1255},
{"d":"2017-06-06","o":1.1255,"h":1.1296,"l":1.1240,"c":1.1275},
{"d":"2017-06-07","o":1.1275,"h":1.1285,"l":1.1245,"c":1.1255},
{"d":"2017-06-08","o":1.1255,"h":1.1270,"l":1.1195,"c":1.1210},
{"d":"2017-06-09","o":1.1210,"h":1.1230,"l":1.1170,"c":1.1195},
{"d":"2017-06-12","o":1.1195,"h":1.1225,"l":1.1180,"c":1.1200},
{"d":"2017-06-13","o":1.1200,"h":1.1230,"l":1.1190,"c":1.1214}
]},
"resolve": {"scale": {"x": "independent"}, "axis": {"x": "independent"}},
"layer": [
{"layer": [
{"mark": {"type": "rule", "color": "#a0a0a0", "strokeWidth": 1},
 "encoding": {
  "x": {"field": "d", "type": "ordinal", "title": "Copyright Fullerton Markets Limited",
        "scale": {"type": "band", "range": [-0.5, 487], "paddingInner": 0, "paddingOuter": 0},
        "axis": {"values": ["2015-10-05","2015-11-18","2016-01-05","2016-02-18","2016-04-04","2016-05-18","2016-07-01","2016-08-16","2016-09-29","2016-11-14","2016-12-28","2017-02-10","2017-03-28","2017-05-11"],
                 "labelExpr": "utcFormat(toDate(datum.value), '%-d %b %Y')",
                 "labelAlign": "left", "labelBaseline": "top", "labelPadding": 1, "tickSize": 2, "labelAngle": 0,
                 "labelOverlap": false, "labelFlush": false, "labelBound": false,
                 "titleAnchor": "end", "titleAlign": "right", "titleX": 612, "titleY": -2, "titleBaseline": "alphabetic",
                 "titleColor": "#7f7f7f", "titleFont": "Liberation Sans", "titleFontSize": 7.6, "titleFontWeight": "normal", "zindex": 1}},
  "y": {"field": "l", "type": "quantitative", "title": null,
        "scale": {"domain": [1.03052, 1.16793], "nice": false, "zero": false},
        "axis": {"orient": "right", "values": [1.0343,1.0411,1.0479,1.0547,1.0615,1.0683,1.0751,1.0819,1.0887,1.0955,1.1023,1.1091,1.1159,1.1363,1.1431,1.1499,1.1567,1.1634],
                 "tickCount": 40, "format": ".5f", "labelPadding": 1, "tickSize": 3, "labelBaseline": "middle",
                 "labelOverlap": false, "labelFlush": false, "labelBound": false, "zindex": 1}},
  "y2": {"field": "h"}
 }},
{"mark": {"type": "bar"},
 "encoding": {
  "x": {"field": "d", "type": "ordinal", "title": "Copyright Fullerton Markets Limited", "scale": {"type": "band", "range": [-0.5, 487], "paddingInner": 0, "paddingOuter": 0}},
  "y": {"field": "o", "type": "quantitative", "title": null, "scale": {"domain": [1.03052, 1.16793], "nice": false, "zero": false}},
  "y2": {"field": "c"},
  "color": {"condition": {"test": "datum.c >= datum.o", "value": "#666666"}, "value": "#262626"}
 }},
{"mark": {"type": "rule", "color": "#5656a0", "strokeWidth": 1},
 "encoding": {"y": {"datum": 1.12955, "type": "quantitative", "title": null, "scale": {"domain": [1.03052, 1.16793], "nice": false, "zero": false}}}},
{"data": {"values": [{"d": "2017-06-13", "level": 1.1295, "label": "1.1295"}]},
 "mark": {"type": "text", "font": "Liberation Sans", "fontSize": 20.5, "color": "#1c1c96", "align": "left", "baseline": "alphabetic", "dx": -5.5, "dy": -19},
 "encoding": {
  "x": {"field": "d", "type": "ordinal", "title": "Copyright Fullerton Markets Limited"},
  "y": {"field": "level", "type": "quantitative", "title": null},
  "text": {"field": "label"}
 }}
]},
{"data": {"values": [{"level": 1.12955, "start": 0, "end": 1, "label": "1.12955", "kind": "line"}, {"level": 1.12135, "start": 0, "end": 1, "label": "1.12135", "kind": "bid"}]},
 "layer": [
  {"mark": {"type": "rule", "strokeWidth": 8},
   "encoding": {
    "x": {"field": "start", "type": "quantitative", "scale": {"domain": [0, 1], "range": [615, 638]}, "axis": null},
    "x2": {"field": "end"},
    "y": {"field": "level", "type": "quantitative", "title": null},
    "color": {"field": "kind", "type": "nominal", "scale": {"domain": ["line", "bid"], "range": ["#2b2b85", "#000000"]}, "legend": null}
   }},
  {"mark": {"type": "text", "font": "Liberation Sans", "fontSize": 5.3, "color": "#ffffff", "align": "left", "baseline": "middle", "dx": 3},
   "encoding": {
    "x": {"field": "start", "type": "quantitative", "scale": {"domain": [0, 1], "range": [615, 638]}, "axis": null},
    "y": {"field": "level", "type": "quantitative", "title": null},
    "text": {"field": "label"}
   }}
 ]}
]
}
